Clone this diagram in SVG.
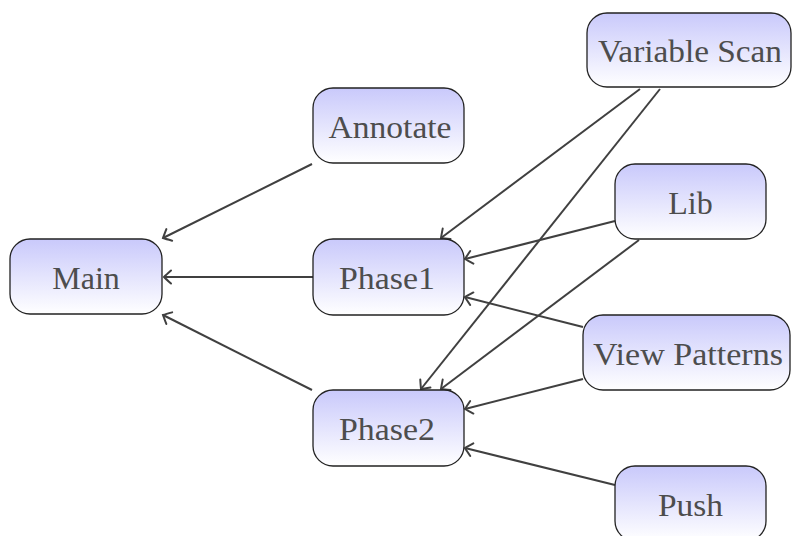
<svg xmlns="http://www.w3.org/2000/svg" width="792" height="536" viewBox="0 0 792 536">
<defs>
<linearGradient id="g" x1="0" y1="0" x2="0" y2="1">
<stop offset="0" stop-color="#c9c9fb"/>
<stop offset="1" stop-color="#ffffff"/>
</linearGradient>
<marker id="arr" markerUnits="userSpaceOnUse" markerWidth="20" markerHeight="20" viewBox="-10 -10 20 20" refX="0" refY="0" orient="auto">
<path d="M -7 -6.5 Q -2 -2 0 0 Q -2 2 -7 6.5" fill="none" stroke="#404040" stroke-width="2" stroke-linecap="round"/>
</marker>
<style>
.box{fill:url(#g);stroke:#222;stroke-width:1.3}
.t{font-family:"Liberation Serif","Times New Roman",serif;font-size:32px;fill:#4d4d4d;text-anchor:middle}
.e{stroke:#404040;stroke-width:2;fill:none;marker-end:url(#arr)}
</style>
</defs>
<rect width="792" height="536" fill="#fff"/>
<g id="edges">
<line class="e" x1="312" y1="164" x2="163" y2="238"/>
<line class="e" x1="313" y1="277" x2="164" y2="277"/>
<line class="e" x1="312" y1="390" x2="163" y2="315"/>
<line class="e" x1="640" y1="89" x2="441" y2="238"/>
<line class="e" x1="660" y1="89" x2="421" y2="389"/>
<line class="e" x1="615" y1="221" x2="465" y2="259"/>
<line class="e" x1="639" y1="240" x2="441" y2="389"/>
<line class="e" x1="583" y1="327" x2="465" y2="297"/>
<line class="e" x1="583" y1="379" x2="465" y2="409"/>
<line class="e" x1="615" y1="485" x2="465" y2="448"/>
</g>
<g id="main"><rect class="box" x="10" y="239" width="152" height="75" rx="20"/><text class="t" x="86" y="289">Main</text></g>
<g id="annotate"><rect class="box" x="313" y="88" width="151" height="75" rx="20"/><text class="t" x="390" y="138" textLength="123" lengthAdjust="spacingAndGlyphs">Annotate</text></g>
<g id="phase1"><rect class="box" x="313" y="239" width="151" height="76" rx="20"/><text class="t" x="387" y="289" textLength="96" lengthAdjust="spacingAndGlyphs">Phase1</text></g>
<g id="phase2"><rect class="box" x="313" y="390" width="151" height="76" rx="20"/><text class="t" x="387" y="440" textLength="96" lengthAdjust="spacingAndGlyphs">Phase2</text></g>
<g id="variablescan"><rect class="box" x="587" y="13" width="204" height="74" rx="20"/><text class="t" x="690" y="62" textLength="184" lengthAdjust="spacingAndGlyphs">Variable Scan</text></g>
<g id="lib"><rect class="box" x="615" y="164" width="151" height="75" rx="20"/><text class="t" x="690.5" y="214">Lib</text></g>
<g id="viewpatterns"><rect class="box" x="583" y="315" width="207" height="75" rx="20"/><text class="t" x="688" y="365" textLength="190" lengthAdjust="spacingAndGlyphs">View Patterns</text></g>
<g id="push"><rect class="box" x="615" y="466" width="151" height="75" rx="20"/><text class="t" x="690.5" y="516" textLength="65" lengthAdjust="spacingAndGlyphs">Push</text></g>
</svg>
